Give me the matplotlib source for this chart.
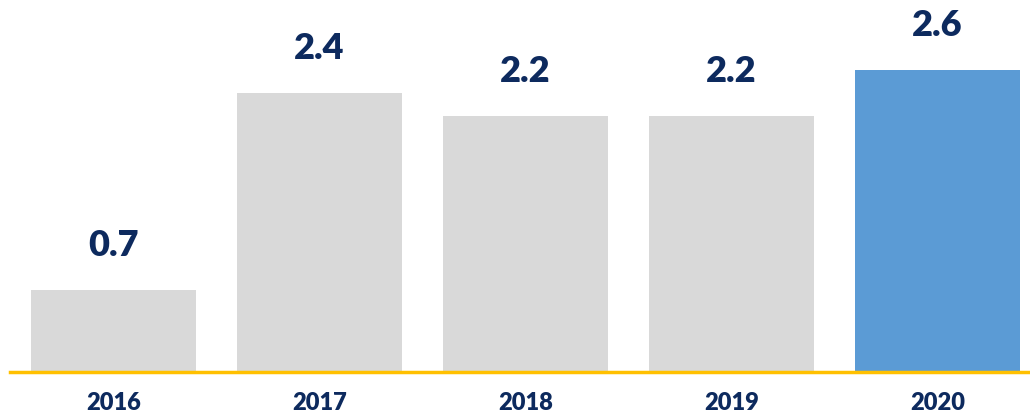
import matplotlib
matplotlib.use('Agg')
import matplotlib.pyplot as plt

years = ['2016', '2017', '2018', '2019', '2020']
values = [0.7, 2.4, 2.2, 2.2, 2.6]
colors = ['#d9d9d9', '#d9d9d9', '#d9d9d9', '#d9d9d9', '#5b9bd5']

navy = '#0d2a5e'
plt.rcParams['font.family'] = ['Lato', 'DejaVu Sans']

fig = plt.figure(figsize=(10.3, 4.2), dpi=100)
ax = fig.add_axes([10 / 1030, 48.5 / 420, 1020 / 1030, 371.5 / 420])

x = range(len(years))
bars = ax.bar(x, values, width=0.8, color=colors, zorder=1)

for b, v in zip(bars, values):
    ax.annotate('%.1f' % v, (b.get_x() + b.get_width() / 2, v),
                xytext=(0, 20), textcoords='offset points',
                ha='center', va='bottom', fontsize=26, fontweight='heavy',
                color=navy)

ax.set_xlim(-0.502, 4.449)
ax.set_ylim(0, 3.2)
ax.set_xticks(list(x))
ax.set_xticklabels(years, fontsize=17, fontweight='heavy', color=navy)
ax.tick_params(axis='x', length=0, pad=15)
ax.set_yticks([])
for s in ['top', 'right', 'left']:
    ax.spines[s].set_visible(False)
ax.spines['bottom'].set_color('#ffc000')
ax.spines['bottom'].set_linewidth(2.5)
ax.spines['bottom'].set_zorder(3)

fig.savefig('out.png', dpi=100)
plt.close(fig)
